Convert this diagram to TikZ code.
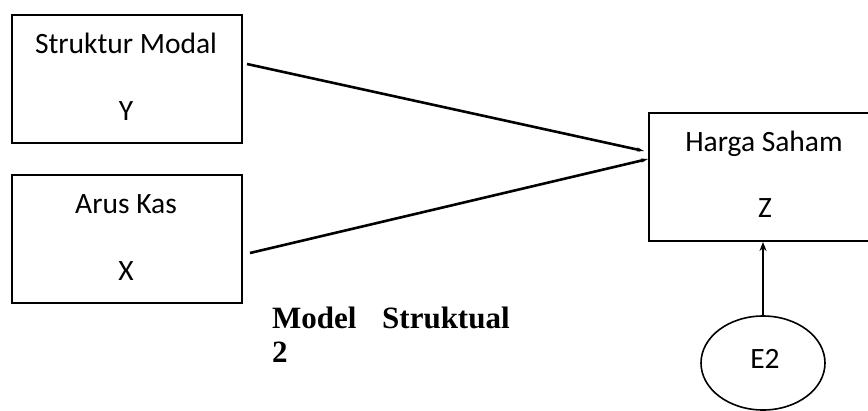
\documentclass[tikz,border=0pt]{standalone}
\usepackage{fontspec}
\setmainfont{Carlito}
\newfontfamily\capfont{Liberation Serif}
\usetikzlibrary{arrows.meta,shapes.geometric}
\begin{document}
\begin{tikzpicture}[x=1pt,y=-1pt,
  varbox/.style={draw,line width=2pt,rectangle,inner sep=0pt,minimum width=230pt,minimum height=128pt},
  boxtxt/.style={anchor=base,inner sep=0pt,font=\fontsize{29.5}{34}\selectfont},
  link/.style={line width=2.6pt,-{Stealth[length=7pt,width=4pt]}},
  captxt/.style={anchor=base west,inner sep=0pt,font=\capfont\bfseries\fontsize{31}{36}\selectfont}]
\clip (0,0) rectangle (868,410);
\fill[white] (0,0) rectangle (868,410);
% boxes
\node[varbox] (sm) at (127,79) {};
\node[varbox] (ak) at (127,239) {};
\node[varbox] (hs) at (764,177) {};
% box texts
\node[boxtxt] (smt) at (126,53) {Struktur Modal};
\node[boxtxt] (smv) at (126,120) {Y};
\node[boxtxt] (akt) at (126,213) {Arus Kas};
\node[boxtxt] (akv) at (126,280) {X};
\node[boxtxt] (hst) at (764,151) {Harga Saham};
\node[boxtxt] (hsv) at (765,217) {Z};
% error ellipse
\node[draw,ellipse,line width=1.6pt,minimum width=124pt,minimum height=94pt,inner sep=0pt] (e2) at (763,363) {};
\node[boxtxt] (e2t) at (765,368) {E2};
% connector endpoints
\coordinate (smout) at (247,64);
\coordinate (akout) at (250,253);
\coordinate (hsin1) at (644,151);
\coordinate (hsin2) at (648,159);
\draw[link] (smout) -- (hsin1);
\draw[link] (akout) -- (hsin2);
\draw[line width=2pt,-{Stealth[length=9pt,width=7pt]}] (e2.north) -- (hs.south -| e2.north);
% caption
\node[captxt] (cap1) at (272,328) {Model};
\node[captxt] (cap2) at (382,328) {Struktual};
\node[captxt] (cap3) at (272,362) {2};
\end{tikzpicture}
\end{document}
